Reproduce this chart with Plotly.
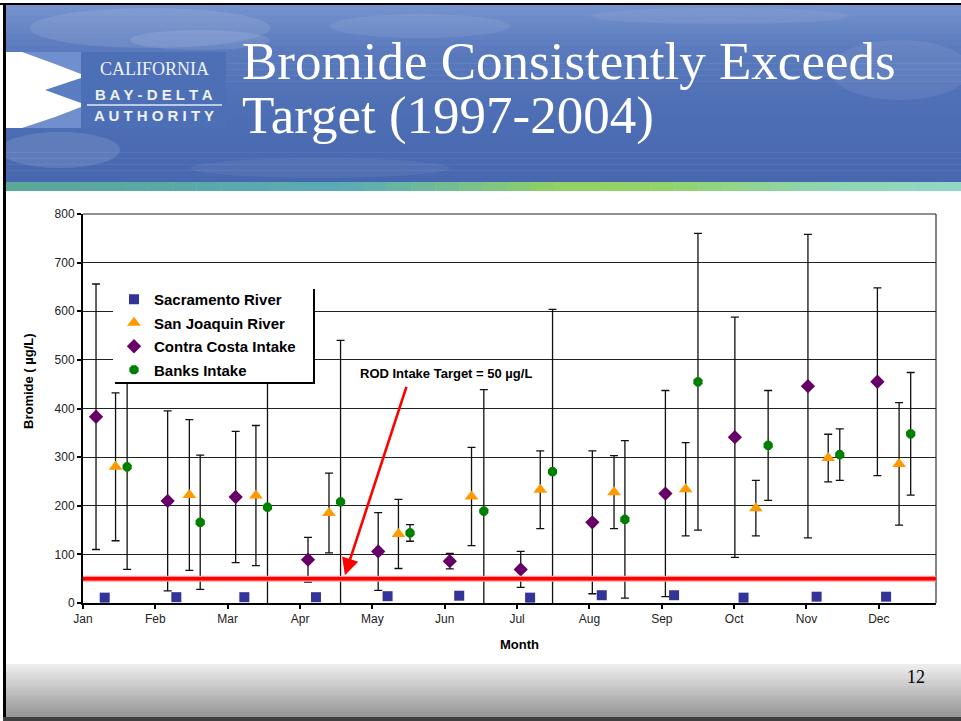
import plotly.graph_objects as go

# ---------------- data ----------------
months = ["Jan", "Feb", "Mar", "Apr", "May", "Jun", "Jul", "Aug", "Sep", "Oct", "Nov", "Dec"]
month_ticks = list(range(12))

sac_x = [0.30, 1.29, 2.23, 3.22, 4.21, 5.20, 6.18, 7.17, 8.17, 9.13, 10.14, 11.10]
sac_y = [11, 12, 12, 12, 14, 15, 11, 16, 16, 11, 13, 13]

sj_x = [0.45, 1.47, 2.39, 3.40, 4.36, 5.37, 6.32, 7.34, 8.33, 9.30, 10.30, 11.28]
sj_y = [280, 222, 221, 185, 142, 219, 233, 228, 234, 195, 298, 286]
sj_err = [152, 155, 144, 82, 71, 101, 80, 75, 96, 57, 49, 126]

cc_x = [0.18, 1.17, 2.11, 3.11, 4.08, 5.07, 6.05, 7.04, 8.05, 9.01, 10.02, 10.98]
cc_y = [383, 210, 218, 89, 106, 86, 69, 166, 225, 341, 446, 455]
cc_err = [273, 185, 135, 46, 80, 16, 37, 147, 212, 247, 312, 193]

bk_x = [0.61, 1.62, 2.55, 3.56, 4.52, 5.54, 6.49, 7.49, 8.50, 9.47, 10.46, 11.44]
bk_y = [280, 166, 197, 208, 144, 189, 270, 172, 455, 324, 305, 348]
bk_err = [211, 138, 290, 332, 17, 250, 334, 162, 305, 113, 53, 126]

target = 50
target_label = "ROD Intake Target = 50 µg/L"
arrow_head = (3.62, 57)

title_lines = ["Bromide Consistently Exceeds", "Target (1997-2004)"]
page_number = "12"

# ---------------- geometry helpers (pixel -> paper) ----------------
W_FIG, H_FIG = 961, 721
L, R, T, B = 83, 936, 214, 603


def px(x):
    return (x - L) / (R - L)


def py(y):
    return (B - y) / (B - T)


def lerp_col(c1, c2, t):
    a = [int(c1[i:i + 2], 16) for i in (1, 3, 5)]
    b = [int(c2[i:i + 2], 16) for i in (1, 3, 5)]
    return "#%02x%02x%02x" % tuple(int(round(a[k] + (b[k] - a[k]) * t)) for k in range(3))


def grad(stops, t):
    for i in range(len(stops) - 1):
        t0, c0 = stops[i]
        t1, c1 = stops[i + 1]
        if t <= t1:
            return lerp_col(c0, c1, (t - t0) / (t1 - t0) if t1 > t0 else 0)
    return stops[-1][1]


shapes = []


def rect(x0, y0, x1, y1, color, layer="below", line=None, opacity=1):
    shapes.append(dict(type="rect", xref="paper", yref="paper",
                       x0=px(x0), x1=px(x1), y0=py(y1), y1=py(y0),
                       fillcolor=color, line=line or dict(width=0),
                       layer=layer, opacity=opacity))


# banner vertical gradient
banner_stops = [(0, "#7592cd"), (0.25, "#5a7abd"), (0.6, "#4e6eb5"), (1, "#4767ae")]
n = 30
for i in range(n):
    y0 = 4 + (182 - 4) * i / n
    y1 = 4 + (182 - 4) * (i + 1) / n + 0.5
    rect(5, y0, 961, y1, grad(banner_stops, i / (n - 1)))

# soft clouds
for (cx, cy, rx, ry, op) in [(150, 28, 120, 20, 0.10), (200, 40, 70, 10, 0.10), (420, 26, 90, 12, 0.08),
                             (60, 150, 60, 18, 0.12), (900, 70, 70, 30, 0.07), (320, 168, 130, 10, 0.06),
                             (720, 16, 130, 8, 0.07)]:
    shapes.append(dict(type="circle", xref="paper", yref="paper",
                       x0=px(cx - rx), x1=px(cx + rx), y0=py(cy + ry), y1=py(cy - ry),
                       fillcolor="white", opacity=op, line=dict(width=0), layer="below"))

# stripe horizontal gradient
stripe_stops = [(0, "#5aa898"), (0.35, "#5aaab6"), (0.5, "#7cc486"), (0.58, "#92d162"),
                (0.7, "#92d36c"), (0.85, "#8fd5ad"), (1, "#90d8c4")]
n = 40
for i in range(n):
    x0 = 5 + (961 - 5) * i / n
    x1 = 5 + (961 - 5) * (i + 1) / n + 0.5
    rect(x0, 182, x1, 191, grad(stripe_stops, i / (n - 1)))

# footer gradient
foot_stops = [(0, "#ececec"), (1, "#979797")]
n = 20
for i in range(n):
    y0 = 664 + (717 - 664) * i / n
    y1 = 664 + (717 - 664) * (i + 1) / n + 0.5
    rect(5, y0, 961, y1, grad(foot_stops, i / (n - 1)))

# slide borders
rect(0, 3, 961, 5, "#000000")
rect(3, 3, 6, 721, "#000000")
rect(3, 717, 961, 721, "#404040")

# logo
rect(6, 52, 81, 128, "#ffffff", layer="above")
logo_polys = [
    ([(22, 52), (81, 52), (81, 74), (55, 64)], "#6f90cc"),
    ([(81, 78), (45, 90), (81, 103)], "#5a7cc0"),
    ([(22, 128), (81, 128), (81, 107), (55, 117)], "#6f90cc"),
]
for pts, col in logo_polys:
    d = "M " + " L ".join("%f,%f" % (px(a), py(b)) for a, b in pts) + " Z"
    shapes.append(dict(type="path", xref="paper", yref="paper", path=d,
                       fillcolor=col, line=dict(width=0), layer="above"))
rect(81, 52, 226, 128, "#4d6fb6", layer="above")
shapes.append(dict(type="line", xref="paper", yref="paper",
                   x0=px(87), x1=px(222), y0=py(105), y1=py(105),
                   line=dict(color="#dfe7f5", width=1.5), layer="above"))

# legend box with shadow
rect(115, 289, 315, 384, "#000000", layer="above")
rect(113, 287, 313, 382, "#ffffff", layer="above")

# plot right and top border
shapes.append(dict(type="line", xref="paper", yref="paper", x0=1, x1=1, y0=0, y1=1,
                   line=dict(color="#333333", width=1.2), layer="below"))
shapes.append(dict(type="line", xref="paper", yref="paper", x0=0, x1=1, y0=1, y1=1,
                   line=dict(color="#222222", width=1.2), layer="below"))

# target line
shapes.append(dict(type="line", xref="paper", yref="y", x0=0, x1=1, y0=target, y1=target,
                   line=dict(color="#ff9999", width=6), layer="above"))
shapes.append(dict(type="line", xref="paper", yref="y", x0=0, x1=1, y0=target, y1=target,
                   line=dict(color="#ff0000", width=3.5), layer="above"))

# ---------------- traces ----------------
fig = go.Figure()
errstyle = dict(type="data", symmetric=True, color="#111111", thickness=1.3, width=4)

fig.add_trace(go.Scatter(x=sac_x, y=sac_y, mode="markers", name="Sacramento River",
                         marker=dict(symbol="square", size=10, color="#333399"),
                         legendgroup="a"))
fig.add_trace(go.Scatter(x=sj_x, y=sj_y, mode="markers", name="San Joaquin River",
                         marker=dict(symbol="triangle-up", size=12, color="#ff9900"),
                         error_y=dict(array=sj_err, **errstyle), legendgroup="b"))
fig.add_trace(go.Scatter(x=cc_x, y=cc_y, mode="markers", name="Contra Costa Intake",
                         marker=dict(symbol="diamond", size=11, color="#660066"),
                         error_y=dict(array=cc_err, **errstyle), legendgroup="c"))
fig.add_trace(go.Scatter(x=bk_x, y=bk_y, mode="markers", name="Banks Intake",
                         marker=dict(symbol="octagon", size=10, color="#008000"),
                         error_y=dict(array=bk_err, **errstyle), legendgroup="d"))

# ---------------- annotations ----------------
ann = []
serif = "Liberation Serif, Times New Roman, serif"
sans = "Liberation Sans, Arial, sans-serif"
ann.append(dict(text=title_lines[0], x=px(240), y=py(61), xref="paper", yref="paper",
                xanchor="left", yanchor="middle", showarrow=False,
                font=dict(family=serif, size=53, color="white")))
ann.append(dict(text=title_lines[1], x=px(240), y=py(116), xref="paper", yref="paper",
                xanchor="left", yanchor="middle", showarrow=False,
                font=dict(family=serif, size=53, color="white")))
ann.append(dict(text="CALIFORNIA", x=px(154), y=py(69), xref="paper", yref="paper",
                xanchor="center", yanchor="middle", showarrow=False,
                font=dict(family=serif, size=18, color="#eef2fa")))
ann.append(dict(text="B A Y - D E L T A", x=px(154), y=py(94), xref="paper", yref="paper",
                xanchor="center", yanchor="middle", showarrow=False,
                font=dict(family=sans, size=15, color="#eef2fa", weight="bold")))
ann.append(dict(text="A U T H O R I T Y", x=px(154), y=py(116), xref="paper", yref="paper",
                xanchor="center", yanchor="middle", showarrow=False,
                font=dict(family=sans, size=15, color="#eef2fa", weight="bold")))
ann.append(dict(text="<b>Bromide ( µg/L)</b>", x=px(28), y=py(381), xref="paper", yref="paper",
                xanchor="center", yanchor="middle", showarrow=False, textangle=-90,
                font=dict(family=sans, size=13, color="black")))
ann.append(dict(text="<b>Month</b>", x=px(519), y=py(644), xref="paper", yref="paper",
                xanchor="center", yanchor="middle", showarrow=False,
                font=dict(family=sans, size=13, color="black")))
ann.append(dict(text="<b>" + target_label + "</b>", x=px(446), y=py(373), xref="paper", yref="paper",
                xanchor="center", yanchor="middle", showarrow=False,
                font=dict(family=sans, size=13, color="black")))
ann.append(dict(text="", x=arrow_head[0], y=arrow_head[1], xref="x", yref="y",
                showarrow=True, ax=62, ay=-190, axref="pixel", ayref="pixel",
                arrowcolor="#ff0000", arrowwidth=2.6, arrowhead=2, arrowsize=1.3,
                startstandoff=0, standoff=0))
ann.append(dict(text=page_number, x=px(916), y=py(677), xref="paper", yref="paper",
                xanchor="center", yanchor="middle", showarrow=False,
                font=dict(family=serif, size=18, color="black")))

fig.update_layout(
    width=W_FIG, height=H_FIG, autosize=False,
    margin=dict(l=L, r=W_FIG - R, t=T, b=H_FIG - B, pad=0),
    paper_bgcolor="white", plot_bgcolor="white",
    shapes=shapes, annotations=ann,
    showlegend=True,
    legend=dict(x=px(114), y=py(283), xanchor="left", yanchor="top",
                bgcolor="rgba(0,0,0,0)", borderwidth=0, tracegroupgap=1,
                font=dict(family=sans, size=15, color="black", weight="bold"), itemwidth=30),
    xaxis=dict(range=[0, 11.79], tickvals=month_ticks, ticktext=months,
               showgrid=False, zeroline=False, showline=True, linecolor="black", linewidth=2,
               ticks="outside", ticklen=4, tickcolor="black", tickwidth=1.5,
               tickfont=dict(family=sans, size=12, color="#222222"), fixedrange=True),
    yaxis=dict(range=[0, 800], dtick=100, tick0=0,
               showgrid=True, gridcolor="#222222", gridwidth=1, zeroline=False,
               showline=True, linecolor="black", linewidth=2,
               ticks="outside", ticklen=4, tickcolor="black", tickwidth=1.5,
               tickfont=dict(family=sans, size=12, color="#222222"), fixedrange=True),
    font=dict(family=sans),
)

fig.write_html("out.html", config={"displayModeBar": False},
               post_script="document.body.style.margin='0';document.body.style.overflow='hidden';")
